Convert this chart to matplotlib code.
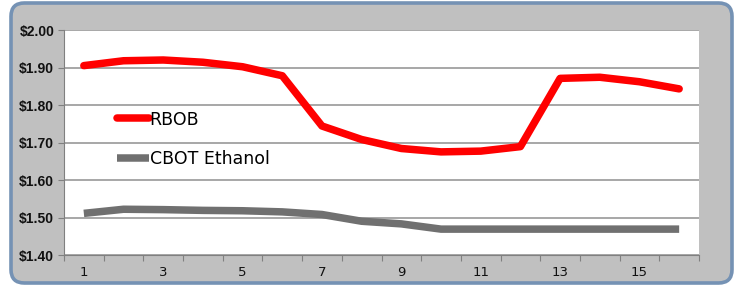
import numpy as np
import matplotlib.pyplot as plt
from matplotlib.patches import FancyBboxPatch
from matplotlib.ticker import FixedLocator, FuncFormatter

days = np.arange(1, 17)
rbob = [1.905, 1.918, 1.920, 1.914, 1.902, 1.878, 1.744, 1.708, 1.684, 1.675,
        1.677, 1.689, 1.871, 1.874, 1.862, 1.843]
ethanol = [1.511, 1.522, 1.521, 1.519, 1.518, 1.515, 1.508, 1.490, 1.483, 1.469,
           1.469, 1.469, 1.469, 1.469, 1.469, 1.469]
tick_labels = ["1", "3", "5", "7", "9", "11", "13", "15"]

fig = plt.figure(figsize=(7.42, 2.87), dpi=100)
W, H = 742, 287

# rounded grey frame with bluish border
frame = FancyBboxPatch((11 / W, 4 / H), 721 / W, 280 / H,
                       boxstyle="round,pad=0,rounding_size=0.018",
                       transform=fig.transFigure, facecolor="#c0c0c0",
                       edgecolor="#7592b4", linewidth=2.6, mutation_aspect=W / H,
                       zorder=-5)
fig.patches.append(frame)

ax = fig.add_axes([64 / W, 1 - 255 / H, 635 / W, 225 / H])
ax.set_facecolor("white")

ax.plot(days, rbob, color="#ff0000", lw=5.4, solid_capstyle="round",
        solid_joinstyle="round", label="RBOB", zorder=3)
ax.plot(days, ethanol, color="#707070", lw=5.4, solid_capstyle="butt",
        label="CBOT Ethanol", zorder=3)

ax.set_xlim(0.5, 16.5)
ax.set_ylim(1.40, 2.00)
ax.set_yticks(np.arange(1.40, 2.001, 0.10))
ax.yaxis.set_major_formatter(FuncFormatter(lambda v, p: "${:.2f}".format(v)))
ax.grid(axis="y", color="#a0a0a0", lw=1.3)
ax.set_axisbelow(True)

ax.xaxis.set_major_locator(FixedLocator(np.arange(0.5, 17, 1)))
ax.xaxis.set_minor_locator(FixedLocator(np.arange(1, 17, 2)))
ax.set_xticklabels([], minor=False)
ax.set_xticklabels(tick_labels, minor=True, fontsize=9.5, color="#111111")
ax.tick_params(axis="x", which="major", length=4, color="#808080", direction="out")
ax.tick_params(axis="x", which="minor", length=0, pad=8)
ax.tick_params(axis="y", length=4, color="#808080", pad=3)
for lab in ax.get_yticklabels():
    lab.set_fontfamily("Liberation Sans")
    lab.set_fontweight("bold")
    lab.set_fontsize(10)
    lab.set_color("#111111")

for s in ["top", "right"]:
    ax.spines[s].set_visible(False)
for s in ["left", "bottom"]:
    ax.spines[s].set_color("#808080")

ax.legend(loc="upper left", bbox_to_anchor=(0.083, 0.642), frameon=False,
          fontsize=12.5, handlelength=1.85, handletextpad=0.05,
          labelspacing=1.25, borderpad=0, borderaxespad=0)

fig.savefig("out.png", dpi=100)
